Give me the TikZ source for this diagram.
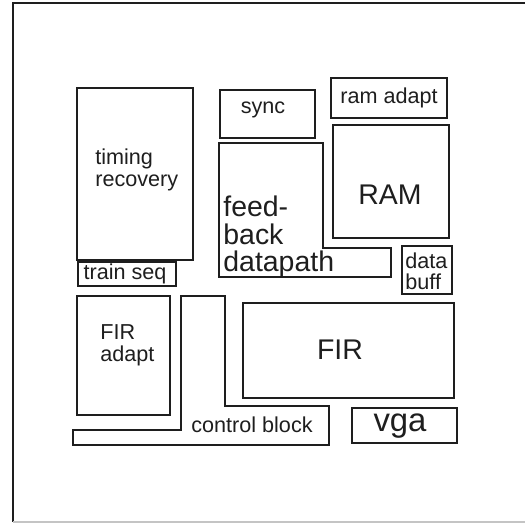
\documentclass[tikz,border=0pt]{standalone}
\usepackage{fontspec}
\setmainfont{Liberation Sans}
\definecolor{ink}{HTML}{1E1E1E}
\definecolor{faint}{HTML}{C4C4C4}
\tikzset{
  blk/.style={draw=ink,line width=0.7pt},
  frm/.style={draw=ink,line width=1pt},
  lbl/.style={font=\fontsize{12.3}{12.5}\selectfont,text=ink,
              inner sep=0pt,align=left},
  blbl/.style={font=\fontsize{16.2}{15.6}\selectfont,text=ink,
               inner sep=0pt,align=left},
}

\begin{document}
\begin{tikzpicture}[x=0.02cm,y=-0.02cm]
  \useasboundingbox (0,0) rectangle (525,523);

  %% ── outer frame ──────────────────────────────────────────────────────────
  \draw[frm] (525,3) -- (13,3) -- (13,522);
  \draw[faint,line width=0.8pt] (13,522) -- (525,522);

  %% ── left column ──────────────────────────────────────────────────────────
  \draw[blk] (77,88)  rectangle (193,260);
  \draw[blk] (78,262) rectangle (176,286);
  \draw[blk] (77,296) rectangle (170,415);
  \node[lbl,anchor=west] (tim)  at (95,170)  {timing\\recovery};
  \node[lbl]             (trn)  at (125,274) {train seq};
  \node[lbl,anchor=west] (fira) at (100,345) {FIR\\adapt};

  %% ── centre: sync, feedback datapath, control block ───────────────────────
  \draw[blk] (220,90) rectangle (315,138);
  \draw[blk] (219,143) -- (323,143) -- (323,248) -- (391,248)
             -- (391,277) -- (219,277) -- cycle;
  \draw[blk] (181,296) -- (225,296) -- (225,406) -- (329,406)
             -- (329,445) -- (73,445) -- (73,430) -- (181,430) -- cycle;
  \node[lbl]              (syn) at (263,110) {sync};
  \node[blbl,anchor=west] (fbk) at (223,237) {feed-\\back\\datapath};
  \node[lbl]              (ctl) at (252,425) {control block};

  %% ── right column ─────────────────────────────────────────────────────────
  \draw[blk] (331,78)  rectangle (447,118);
  \draw[blk] (333,125) rectangle (449,238);
  \draw[blk] (402,246) rectangle (452,294);
  \draw[blk] (243,303) rectangle (454,398);
  \draw[blk] (352,408) rectangle (457,443);
  \node[lbl]  (rad) at (389,98)  {ram adapt};
  \node[blbl] (ram) at (390,195) {RAM};
  \node[lbl,anchor=west,font=\fontsize{12.3}{11.9}\selectfont]
              (dbf) at (405,271) {data\\buff};
  \node[blbl] (fir) at (340,350) {FIR};
  \node[blbl,font=\fontsize{18.7}{19}\selectfont] (vga) at (400,426) {vga};

\end{tikzpicture}
\end{document}
